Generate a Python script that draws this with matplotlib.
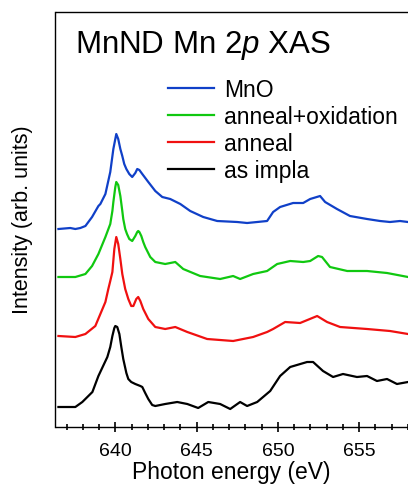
import matplotlib
matplotlib.use('Agg')
import matplotlib.pyplot as plt
import numpy as np

plt.rcParams['font.family'] = ['Liberation Sans', 'DejaVu Sans']
plt.rcParams['mathtext.fontset'] = 'custom'
plt.rcParams['mathtext.rm'] = 'Liberation Sans'
plt.rcParams['mathtext.it'] = 'Liberation Sans:italic'

# spectra (energy in eV, intensity in arb. units)
e_mno = [636.50, 637.23, 637.54, 637.85, 638.16, 638.57, 638.96, 639.08, 639.39, 639.69,
         639.88, 640.06, 640.18, 640.31, 640.43, 640.55, 640.68, 640.86, 641.04, 641.23,
         641.35, 641.48, 641.66, 642.03, 642.46,
         642.89, 643.38, 644.00, 644.61, 645.41, 646.27, 647.50, 648.11, 648.73, 649.34,
         649.71, 650.14, 650.94, 651.56, 651.99, 652.60, 652.91, 653.64, 654.44, 655.49,
         656.29, 656.90, 657.52, 658.01]
i_mno = [197, 198, 197, 198, 200, 209, 220, 222, 232, 254,
         277, 292, 287, 277, 270, 262, 257, 252, 249, 253,
         257, 256, 252, 244, 235,
         229, 227, 222, 215, 209, 205, 204, 203, 204, 205,
         214, 219, 223, 223, 227, 230, 224, 217, 210, 207,
         205, 204, 205, 204]

e_ox = [636.50, 637.54, 638.16, 638.57, 638.96, 639.39, 639.69, 639.82, 639.88, 640.00,
        640.06, 640.18, 640.31, 640.43, 640.49, 640.61, 640.72, 640.86, 641.04, 641.23,
        641.35, 641.41, 641.48, 641.60, 641.72, 641.84, 642.15, 642.46, 643.07,
        643.69, 644.18, 645.22, 646.45, 647.25, 647.68, 648.48, 649.34, 649.96, 650.76,
        651.56, 651.99, 652.48, 652.72, 653.21, 654.27, 655.49, 656.72, 658.01]
i_ox = [149, 149, 152, 160, 172, 189, 202, 215, 224, 239,
        244, 241, 230, 215, 207, 197, 192, 187, 185, 190,
        194, 195, 194, 190, 184, 179, 169, 164, 162,
        164, 157, 150, 147, 150, 147, 152, 155, 162, 165,
        164, 165, 170, 169, 159, 155, 155, 153, 149]

e_ann = [636.50, 637.54, 638.16, 638.77, 639.39, 639.57, 639.69, 639.82, 639.94, 640.06,
         640.18, 640.31, 640.43, 640.61, 640.80, 640.98, 641.11, 641.29, 641.41, 641.54,
         641.72, 642.03, 642.46, 643.07, 643.69, 644.43, 645.65, 647.25, 648.48,
         649.34, 649.71, 650.45, 651.37, 652.42, 653.03, 653.83, 655.49, 656.90, 658.01]
i_ann = [90, 89, 92, 100, 124, 137, 145, 154, 177, 189,
         182, 167, 152, 137, 127, 120, 120, 127, 129, 125,
         117, 107, 99, 97, 99, 94, 87, 85, 89,
         94, 97, 104, 103, 110, 104, 99, 97, 95, 92]

e_imp = [636.50, 637.54, 637.97, 638.59, 638.96, 639.51, 639.69, 639.82, 639.94, 640.00,
         640.12, 640.25, 640.37, 640.49, 640.68, 640.80, 640.98, 641.23, 641.54, 641.66,
         641.84, 642.03, 642.27, 642.46, 643.07, 643.81, 644.43, 645.10, 645.72,
         646.45, 647.07, 647.68, 648.11, 648.73, 649.53, 650.14, 650.76, 651.80, 652.17,
         652.78, 653.40, 654.01, 654.87, 655.49, 656.10, 656.72, 657.33, 658.01]
i_imp = [19, 19, 24, 34, 50, 69, 79, 90, 98, 100,
         99, 92, 79, 67, 53, 47, 44, 42, 40, 39,
         33, 27, 21, 20, 22, 24, 22, 18, 24,
         22, 17, 24, 20, 24, 35, 50, 59, 64, 64,
         55, 49, 52, 49, 50, 45, 47, 42, 44]

labels = ['MnO', 'anneal+oxidation', 'anneal', 'as impla']
colors = ['#1040c8', '#10c810', '#f01010', '#000000']

W, H = 408, 489
fig = plt.figure(figsize=(W / 100, H / 100), dpi=100)
ax = fig.add_axes([55.5 / W, 1 - 427.5 / H, (W - 55.5) / W, (427.5 - 12.5) / H])

series = [(e_mno, i_mno), (e_ox, i_ox), (e_ann, i_ann), (e_imp, i_imp)]
for (e, i), lab, c in zip(series, labels, colors):
    ax.plot(e, i, color=c, lw=1.6, label=lab)

ax.set_xlim(636.32, 658.01)
ax.set_ylim(-0.5, 414.5)
ax.spines['right'].set_visible(False)
for s in ['left', 'top', 'bottom']:
    ax.spines[s].set_linewidth(1.0)

ax.set_xticks([640, 645, 650, 655])
ax.set_xticks(np.arange(637, 659, 1), minor=True)
ax.tick_params(axis='x', which='major', direction='inout', length=7, width=1.2,
               labelsize=14, pad=8)
ax.tick_params(axis='x', which='minor', direction='inout', length=5, width=1.2)
ax.set_yticks([])

ax.set_xlabel('Photon energy (eV)', fontsize=16.5, labelpad=0.5)
ax.set_ylabel('Intensity (arb. units)', fontsize=15.5, labelpad=16)

fig.text(75 / W, 1 - 52.5 / H, r'MnND Mn 2$\mathit{p}$ XAS', fontsize=22.5,
         va='baseline', ha='left')

ax.legend(loc='upper left', bbox_to_anchor=(168 / W, 1 - 79 / H),
          bbox_transform=fig.transFigure, frameon=False, fontsize=16.5,
          borderpad=0, borderaxespad=0, labelspacing=0.17,
          handlelength=2.0, handletextpad=0.45)

fig.savefig('out.png', dpi=100)
